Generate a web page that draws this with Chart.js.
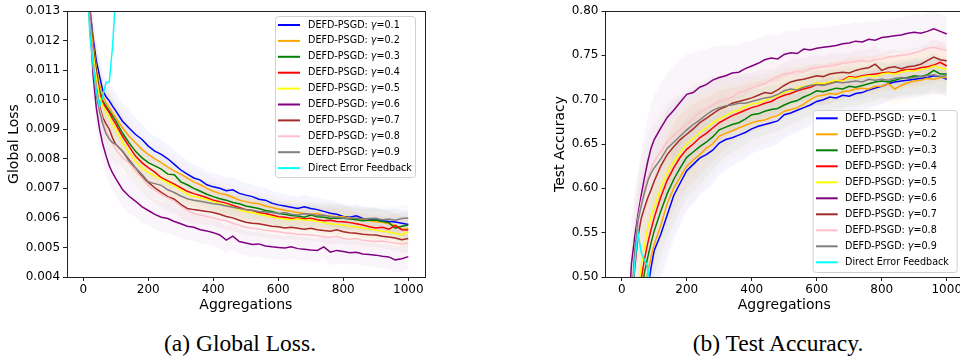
<!DOCTYPE html>
<html><head><meta charset="utf-8">
<script src="https://cdn.jsdelivr.net/npm/chart.js@4.4.1/dist/chart.umd.min.js"></script>
<style>
html,body{margin:0;padding:0;background:#fff;width:960px;height:358px;overflow:hidden;}
#c1{position:absolute;left:0;top:0;}
#c2{position:absolute;left:540px;top:0;}
.cap{position:absolute;top:329px;font-family:'Liberation Serif','Times New Roman',serif;font-size:23.5px;line-height:28px;white-space:nowrap;color:#000;transform:translateX(-50%);}
</style></head><body>
<canvas id="c1" width="440" height="320"></canvas>
<canvas id="c2" width="440" height="320"></canvas>
<div class="cap" style="left:240px">(a) Global Loss.</div>
<div class="cap" style="left:778px">(b) Test Accuracy.</div>
<script>
// ---------------- DATA ----------------
const aggregations = [0,10,20,30,40,50,60,70,80,90,100,
  120,140,160,180,200, 220,240,260,280,300, 320,340,360,380,400,
  420,440,460,480,500, 520,540,560,580,600, 620,640,660,680,700,
  720,740,760,780,800, 820,840,860,880,900, 920,940,960,980,1000];

const aggTicks = [0,200,400,600,800,1000];
const lossTicks = [0.004,0.005,0.006,0.007,0.008,0.009,0.010,0.011,0.012,0.013];
const accTicks = [0.50,0.55,0.60,0.65,0.70,0.75,0.80];

const seriesLabels = ['DEFD-PSGD: γ=0.1','DEFD-PSGD: γ=0.2','DEFD-PSGD: γ=0.3','DEFD-PSGD: γ=0.4','DEFD-PSGD: γ=0.5','DEFD-PSGD: γ=0.6','DEFD-PSGD: γ=0.7','DEFD-PSGD: γ=0.8','DEFD-PSGD: γ=0.9','Direct Error Feedback'];

// Global loss
const lossG1 = [0.0200,0.0158,0.0131,0.0121,0.01131,0.0108,0.0103,0.0101,0.00996,0.00978,0.00962,
 0.00928,0.00905,0.00883,0.00866,0.00843, 0.00826,0.00815,0.00800,0.00781,0.00762,
 0.00748,0.00735,0.00728,0.00712,0.00705, 0.00700,0.00692,0.00695,0.00683,0.00677,
 0.00672,0.00663,0.00660,0.00650,0.00644, 0.00640,0.00636,0.00632,0.00638,0.00632,
 0.00628,0.00622,0.00616,0.00612,0.00605, 0.00602,0.00607,0.00598,0.00596,0.00594,
 0.00590,0.00588,0.00586,0.00582,0.00578];
const lossG2 = [0.0205,0.0160,0.0130,0.0119,0.01108,0.0105,0.01013,0.0099,0.00973,0.00955,0.00939,
 0.00905,0.00877,0.00855,0.00832,0.00815, 0.00800,0.00787,0.00772,0.00759,0.00748,
 0.00735,0.00722,0.00712,0.00700,0.00690, 0.00683,0.00678,0.00670,0.00660,0.00655,
 0.00650,0.00648,0.00640,0.00635,0.00630, 0.00626,0.00622,0.00618,0.00615,0.00612,
 0.00615,0.00608,0.00606,0.00604,0.00604, 0.00600,0.00596,0.00594,0.00590,0.00587,
 0.00585,0.00580,0.00575,0.00560,0.00565];
const lossG3 = [0.0210,0.0162,0.0129,0.0118,0.01097,0.0103,0.00996,0.00978,0.00962,0.00945,0.00928,
 0.00888,0.00855,0.00826,0.00804,0.00787, 0.00776,0.00765,0.00748,0.00746,0.00722,
 0.00712,0.00700,0.00690,0.00680,0.00672, 0.00665,0.00660,0.00652,0.00648,0.00640,
 0.00636,0.00632,0.00625,0.00622,0.00615, 0.00612,0.00608,0.00606,0.00602,0.00610,
 0.00604,0.00602,0.00598,0.00600,0.00599, 0.00596,0.00594,0.00590,0.00592,0.00593,
 0.00588,0.00584,0.00565,0.00572,0.00576];
const lossG4 = [0.0215,0.0165,0.0128,0.0117,0.01086,0.0102,0.0099,0.00972,0.00956,0.00935,0.00917,
 0.00877,0.00843,0.00810,0.00787,0.00770, 0.00755,0.00736,0.00725,0.00714,0.00702,
 0.00690,0.00682,0.00676,0.00668,0.00660, 0.00655,0.00650,0.00642,0.00635,0.00628,
 0.00625,0.00618,0.00615,0.00610,0.00604, 0.00602,0.00598,0.00600,0.00596,0.00599,
 0.00594,0.00590,0.00592,0.00588,0.00587, 0.00584,0.00580,0.00576,0.00570,0.00566,
 0.00568,0.00562,0.00574,0.00560,0.00559];
const lossG5 = [0.0220,0.0167,0.0127,0.0116,0.01075,0.0101,0.00979,0.00958,0.00939,0.00918,0.00900,
 0.00860,0.00821,0.00793,0.00770,0.00753, 0.00742,0.00731,0.00718,0.00708,0.00695,
 0.00680,0.00672,0.00668,0.00662,0.00655, 0.00648,0.00642,0.00636,0.00628,0.00621,
 0.00618,0.00612,0.00608,0.00604,0.00599, 0.00596,0.00594,0.00597,0.00592,0.00593,
 0.00588,0.00584,0.00580,0.00578,0.00576, 0.00572,0.00570,0.00566,0.00562,0.00559,
 0.00555,0.00552,0.00548,0.00542,0.00553];
const lossG6 = [0.0190,0.0150,0.0130,0.01086,0.00973,0.0090,0.00849,0.00810,0.00776,0.00752,0.00733,
 0.00697,0.00674,0.00657,0.00638,0.00625, 0.00612,0.00602,0.00598,0.00588,0.00580,
 0.00572,0.00568,0.00560,0.00556,0.00550, 0.00542,0.00525,0.00538,0.00520,0.00515,
 0.00510,0.00512,0.00505,0.00502,0.00500, 0.00498,0.00502,0.00496,0.00494,0.00491,
 0.00490,0.00502,0.00484,0.00490,0.00486, 0.00482,0.00484,0.00478,0.00476,0.00474,
 0.00470,0.00468,0.00458,0.00462,0.00469];
const lossG7 = [0.0195,0.0152,0.0126,0.0113,0.01041,0.0098,0.00939,0.00918,0.00900,0.00870,0.00849,
 0.00826,0.00798,0.00770,0.00742,0.00720, 0.00702,0.00686,0.00672,0.00663,0.00646,
 0.00632,0.00628,0.00625,0.00622,0.00618, 0.00612,0.00605,0.00600,0.00592,0.00585,
 0.00582,0.00580,0.00576,0.00572,0.00570, 0.00566,0.00568,0.00565,0.00562,0.00565,
 0.00560,0.00557,0.00555,0.00560,0.00553, 0.00550,0.00548,0.00545,0.00543,0.00542,
 0.00538,0.00535,0.00532,0.00526,0.00530];
const lossG8 = [0.0198,0.0154,0.0127,0.0113,0.0103,0.0097,0.00928,0.00900,0.00872,0.00850,0.00832,
 0.00804,0.00787,0.00759,0.00736,0.00708, 0.00694,0.00680,0.00668,0.00657,0.00640,
 0.00625,0.00615,0.00610,0.00605,0.00600, 0.00594,0.00590,0.00582,0.00575,0.00568,
 0.00565,0.00562,0.00558,0.00556,0.00553, 0.00550,0.00548,0.00545,0.00544,0.00542,
 0.00540,0.00536,0.00534,0.00538,0.00530, 0.00528,0.00530,0.00524,0.00522,0.00520,
 0.00522,0.00518,0.00515,0.00512,0.00515];
const lossG9 = [0.0190,0.0150,0.0124,0.0111,0.01018,0.0096,0.00917,0.00885,0.00866,0.00855,0.00849,
 0.00826,0.00793,0.00770,0.00748,0.00722, 0.00716,0.00710,0.00695,0.00686,0.00674,
 0.00665,0.00660,0.00656,0.00652,0.00648, 0.00645,0.00640,0.00636,0.00632,0.00628,
 0.00626,0.00622,0.00620,0.00618,0.00615, 0.00618,0.00612,0.00610,0.00614,0.00612,
 0.00608,0.00610,0.00604,0.00602,0.00600, 0.00598,0.00600,0.00596,0.00598,0.00599,
 0.00594,0.00596,0.00592,0.00598,0.00600];
const lossDEF = [0.0200,0.0150,0.0122,0.0112,0.0103,0.00978,0.01012,0.01058,0.01060,0.0118,0.0136];
const lossSpread = [0.0010,0.0010,0.0009,0.0008,0.0007,0.0007,0.0006,0.0006,0.0006,0.0006,0.0006,
 0.0006,0.0006,0.00055,0.00055,0.0005, 0.0005,0.0005,0.0005,0.00048,0.00048,
 0.00046,0.00046,0.00045,0.00045,0.00045, 0.00045,0.00044,0.00044,0.00043,0.00043,
 0.00042,0.00042,0.00042,0.00041,0.00041, 0.0004,0.0004,0.0004,0.0004,0.0004,
 0.0004,0.00042,0.00044,0.00044,0.00042, 0.0004,0.0004,0.0004,0.0004,0.0004,
 0.0004,0.00042,0.00044,0.00045,0.00045];

// Test accuracy
const accG1 = [0.10,0.18,0.24,0.30,0.35,0.39,0.43,0.46,0.485,0.51,0.530,
 0.548,0.570,0.592,0.606,0.620, 0.627,0.634,0.638,0.643,0.651,
 0.655,0.657,0.660,0.663,0.667, 0.670,0.672,0.674,0.676,0.683,
 0.685,0.688,0.691,0.694,0.698, 0.700,0.703,0.702,0.705,0.704,
 0.707,0.708,0.711,0.713,0.715, 0.718,0.720,0.721,0.722,0.723,
 0.724,0.725,0.727,0.726,0.723];
const accG2 = [0.10,0.19,0.26,0.32,0.38,0.42,0.455,0.482,0.505,0.522,0.537,
 0.558,0.583,0.600,0.613,0.625, 0.632,0.638,0.645,0.650,0.659,
 0.662,0.665,0.668,0.671,0.674, 0.676,0.677,0.680,0.682,0.687,
 0.689,0.691,0.695,0.700,0.704, 0.705,0.707,0.706,0.709,0.710,
 0.712,0.713,0.712,0.715,0.715, 0.718,0.712,0.716,0.719,0.721,
 0.722,0.724,0.723,0.725,0.725];
const accG3 = [0.10,0.20,0.28,0.34,0.40,0.445,0.48,0.505,0.522,0.538,0.552,
 0.574,0.594,0.610,0.623,0.635, 0.641,0.647,0.652,0.658,0.666,
 0.669,0.672,0.674,0.678,0.683, 0.684,0.687,0.689,0.690,0.694,
 0.697,0.699,0.703,0.706,0.710, 0.709,0.711,0.713,0.712,0.715,
 0.714,0.716,0.718,0.720,0.721, 0.720,0.722,0.724,0.725,0.727,
 0.726,0.728,0.733,0.729,0.729];
const accG4 = [0.10,0.21,0.30,0.36,0.42,0.465,0.498,0.52,0.538,0.553,0.567,
 0.590,0.609,0.623,0.635,0.644, 0.650,0.657,0.662,0.668,0.674,
 0.678,0.682,0.685,0.688,0.691, 0.693,0.696,0.698,0.702,0.705,
 0.707,0.710,0.712,0.714,0.717, 0.717,0.719,0.721,0.722,0.726,
 0.725,0.727,0.728,0.729,0.730, 0.731,0.730,0.733,0.734,0.734,
 0.736,0.737,0.739,0.742,0.738];
const accG5 = [0.10,0.22,0.31,0.38,0.44,0.48,0.512,0.535,0.555,0.568,0.578,
 0.600,0.617,0.630,0.640,0.650, 0.656,0.663,0.668,0.674,0.678,
 0.682,0.686,0.688,0.692,0.695, 0.696,0.699,0.702,0.705,0.708,
 0.710,0.713,0.715,0.716,0.719, 0.718,0.720,0.722,0.721,0.725,
 0.724,0.726,0.727,0.726,0.729, 0.730,0.729,0.731,0.733,0.732,
 0.734,0.735,0.738,0.736,0.734];
const accG6 = [0.10,0.28,0.45,0.515,0.545,0.570,0.592,0.612,0.630,0.645,0.655,
 0.668,0.680,0.688,0.697,0.706, 0.708,0.714,0.717,0.722,0.725,
 0.727,0.730,0.731,0.735,0.738, 0.741,0.745,0.747,0.746,0.751,
 0.753,0.752,0.757,0.756,0.758, 0.759,0.760,0.761,0.763,0.764,
 0.766,0.765,0.768,0.767,0.770, 0.771,0.772,0.773,0.775,0.776,
 0.775,0.777,0.780,0.777,0.774];
const accG7 = [0.10,0.22,0.36,0.46,0.51,0.545,0.566,0.578,0.589,0.598,0.608,
 0.625,0.638,0.647,0.655,0.661, 0.667,0.674,0.679,0.684,0.689,
 0.692,0.696,0.698,0.700,0.702, 0.705,0.708,0.707,0.711,0.716,
 0.720,0.722,0.723,0.725,0.727, 0.726,0.729,0.730,0.731,0.730,
 0.733,0.735,0.736,0.740,0.733, 0.736,0.737,0.735,0.737,0.738,
 0.740,0.744,0.748,0.745,0.744];
const accG8 = [0.10,0.24,0.38,0.46,0.53,0.565,0.585,0.600,0.612,0.622,0.630,
 0.642,0.652,0.660,0.666,0.672, 0.679,0.685,0.690,0.694,0.698,
 0.700,0.703,0.708,0.710,0.713, 0.716,0.718,0.722,0.726,0.729,
 0.730,0.732,0.731,0.735,0.736, 0.737,0.738,0.739,0.741,0.742,
 0.743,0.744,0.743,0.745,0.746, 0.748,0.749,0.750,0.751,0.753,
 0.755,0.758,0.759,0.757,0.755];
const accG9 = [0.10,0.24,0.38,0.47,0.53,0.563,0.580,0.595,0.608,0.617,0.623,
 0.633,0.645,0.652,0.659,0.666, 0.672,0.677,0.683,0.688,0.691,
 0.693,0.694,0.696,0.696,0.698, 0.700,0.702,0.703,0.706,0.710,
 0.712,0.711,0.714,0.716,0.717, 0.716,0.718,0.720,0.719,0.720,
 0.721,0.720,0.723,0.722,0.723, 0.722,0.724,0.725,0.724,0.725,
 0.726,0.727,0.728,0.726,0.727];
const accDEF = [0.10,0.25,0.38,0.47,0.515,0.550,0.528,0.519,0.512,0.48,0.30];
const accSpread = [0.02,0.03,0.04,0.05,0.05,0.05,0.05,0.05,0.05,0.05,0.05,
 0.05,0.05,0.05,0.048,0.045, 0.045,0.042,0.04,0.038,0.036,
 0.034,0.032,0.03,0.03,0.028, 0.028,0.027,0.027,0.026,0.026,
 0.025,0.025,0.024,0.024,0.023, 0.023,0.023,0.022,0.022,0.022,
 0.022,0.021,0.021,0.021,0.02, 0.02,0.02,0.02,0.02,0.02,
 0.02,0.02,0.02,0.02,0.02];

// ---------------- STYLE ----------------
const seriesColors = ['#0000ff','#ffa500','#008000','#ff0000','#ffff00','#800080','#a52a2a','#ffc0cb','#808080','#00ffff'];
const FONT = "'DejaVu Sans', sans-serif";

function rgba(hex, a) {
  const n = parseInt(hex.slice(1), 16);
  return `rgba(${(n>>16)&255},${(n>>8)&255},${n&255},${a})`;
}

function buildDatasets(seriesList, spread) {
  const ds = [];
  seriesList.forEach((vals, i) => {
    if (i >= 9) return;
    const upIdx = ds.length;
    ds.push({
      data: vals.map((v, k) => ({x: aggregations[k], y: v + spread[k]})),
      borderWidth: 0, pointRadius: 0, fill: false, order: 50,
      borderColor: 'rgba(0,0,0,0)'
    });
    ds.push({
      data: vals.map((v, k) => ({x: aggregations[k], y: v - spread[k]})),
      borderWidth: 0, pointRadius: 0, fill: upIdx, order: 50,
      borderColor: 'rgba(0,0,0,0)', backgroundColor: rgba(seriesColors[i], 0.04)
    });
  });
  seriesList.forEach((vals, i) => {
    ds.push({
      label: seriesLabels[i],
      data: vals.map((v, k) => ({x: aggregations[k], y: v})),
      borderColor: seriesColors[i], backgroundColor: seriesColors[i],
      borderWidth: 1.5, pointRadius: 0, fill: false, tension: 0,
      order: 10 - i
    });
  });
  return ds;
}

const framePlugin = {
  id: 'frame',
  afterDatasetsDraw(chart) {
    const {ctx, chartArea: a} = chart;
    ctx.save();
    ctx.strokeStyle = '#222';
    ctx.lineWidth = 1;
    ctx.strokeRect(Math.round(a.left) + 0.5, Math.round(a.top) + 0.5, Math.round(a.right - a.left), Math.round(a.bottom - a.top));
    ctx.restore();
  }
};

function roundRect(ctx, x, y, w, h, r) {
  ctx.beginPath();
  ctx.moveTo(x + r, y);
  ctx.lineTo(x + w - r, y); ctx.arcTo(x + w, y, x + w, y + r, r);
  ctx.lineTo(x + w, y + h - r); ctx.arcTo(x + w, y + h, x + w - r, y + h, r);
  ctx.lineTo(x + r, y + h); ctx.arcTo(x, y + h, x, y + h - r, r);
  ctx.lineTo(x, y + r); ctx.arcTo(x, y, x + r, y, r);
  ctx.closePath();
}

const legendPlugin = {
  id: 'boxLegend',
  afterDraw(chart, args, o) {
    const ctx = chart.ctx;
    ctx.save();
    roundRect(ctx, o.x + 0.5, o.y + 0.5, o.w, o.h, 3);
    ctx.fillStyle = 'rgba(255,255,255,0.8)';
    ctx.fill();
    ctx.strokeStyle = '#d0d0d0';
    ctx.lineWidth = 1;
    ctx.stroke();
    ctx.textBaseline = 'middle';
    seriesLabels.forEach((lab, i) => {
      const y = o.rowY0 + i * o.rowH;
      ctx.strokeStyle = seriesColors[i];
      ctx.lineWidth = 2;
      ctx.beginPath(); ctx.moveTo(o.lineX0, y); ctx.lineTo(o.lineX1, y); ctx.stroke();
      ctx.fillStyle = '#000';
      const parts = lab.split('γ');
      let x = o.textX;
      ctx.font = `${o.size}px ${FONT}`;
      ctx.fillText(parts[0], x, y);
      x += ctx.measureText(parts[0]).width;
      if (parts.length > 1) {
        ctx.font = `italic ${o.size}px ${FONT}`;
        ctx.fillText('γ', x, y);
        x += ctx.measureText('γ').width;
        ctx.font = `${o.size}px ${FONT}`;
        ctx.fillText(parts[1], x, y);
      }
    });
    ctx.restore();
  }
};

function makeChart(id, seriesList, spread, yMin, yMax, yTicks, decimals, yTitle, yWidth, padRight, yTitlePad, legendOpts) {
  return new Chart(document.getElementById(id), {
    type: 'line',
    data: {datasets: buildDatasets(seriesList, spread)},
    plugins: [framePlugin, legendPlugin],
    options: {
      responsive: false, animation: false, devicePixelRatio: 1,
      layout: {padding: {left: 0, top: 11, right: padRight, bottom: 0}},
      plugins: {legend: {display: false}, tooltip: {enabled: false}, boxLegend: legendOpts},
      scales: {
        x: {
          type: 'linear', min: -50, max: 1050,
          afterBuildTicks: s => { s.ticks = aggTicks.map(v => ({value: v})); },
          afterFit: s => { s.height = 43; },
          ticks: {callback: v => String(v), font: {family: FONT, size: 12}, color: '#000', padding: 2, maxRotation: 0, autoSkip: false},
          grid: {drawOnChartArea: false, drawTicks: true, tickLength: 4, tickColor: '#222', tickWidth: 1, color: '#222'},
          border: {display: false},
          title: {display: true, text: 'Aggregations', font: {family: FONT, size: 14}, color: '#000', padding: {top: 0, bottom: 6.6}}
        },
        y: {
          type: 'linear', min: yMin, max: yMax,
          afterBuildTicks: s => { s.ticks = yTicks.map(v => ({value: v})); },
          afterFit: s => { s.width = yWidth; },
          ticks: {callback: v => Number(v).toFixed(decimals), font: {family: FONT, size: 12}, color: '#000', padding: 3, autoSkip: false},
          grid: {drawOnChartArea: false, drawTicks: true, tickLength: 4, tickColor: '#222', tickWidth: 1, color: '#222'},
          border: {display: false},
          title: {display: true, text: yTitle, font: {family: FONT, size: 14}, color: '#000', padding: {top: yTitlePad, bottom: 0}}
        }
      }
    }
  });
}

makeChart('c1', [lossG1,lossG2,lossG3,lossG4,lossG5,lossG6,lossG7,lossG8,lossG9,lossDEF], lossSpread,
  0.004, 0.013, lossTicks, 3, 'Global Loss', 67.05, 15.45, 5.6,
  {x: 275, y: 16, w: 140, h: 161, rowY0: 25, rowH: 15.9, lineX0: 278, lineX1: 300, textX: 308, size: 9.6});

makeChart('c2', [accG1,accG2,accG3,accG4,accG5,accG6,accG7,accG8,accG9,accDEF], accSpread,
  0.50, 0.80, accTicks, 2, 'Test Accuracy', 65.45, 17, 11.6,
  {x: 272.7, y: 110, w: 144, h: 162, rowY0: 118.3, rowH: 16, lineX0: 276, lineX1: 297.7, textX: 305, size: 9.6});
</script>
</body></html>
